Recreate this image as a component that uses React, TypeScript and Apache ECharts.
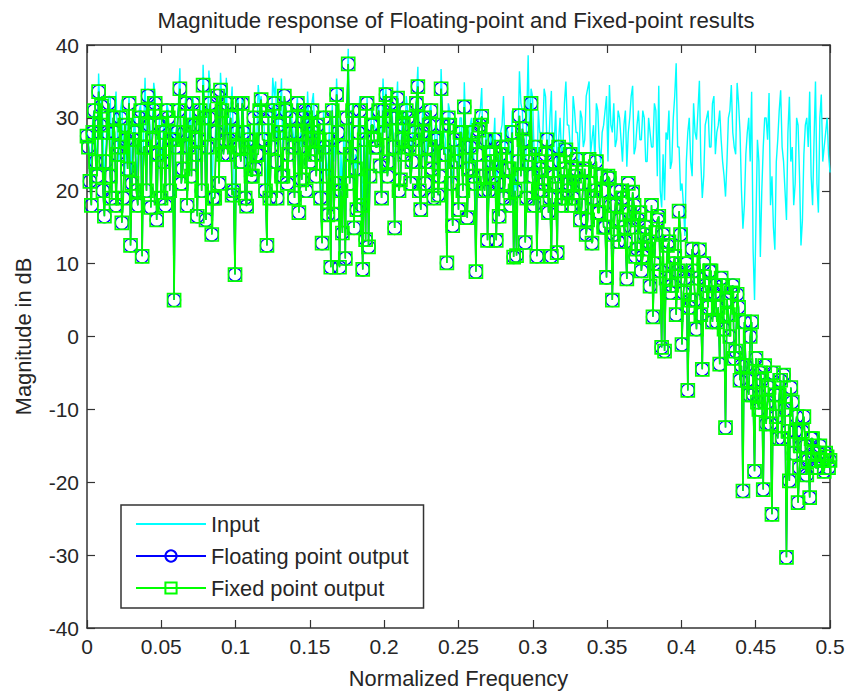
import React, { useEffect, useRef } from "react";
import * as echarts from "echarts";

const titleText = "Magnitude response of Floating-point and Fixed-point results";
const xName = "Normalized Frequency";
const yName = "Magnitude in dB";
const binsPerUnit = 1024;

const inputEvenBinsDb = [
  28,23,30,26,36.1,33,20,30,32.9,27,
  33.6,24,32.5,22,29,18,28,22,31,19,
  35.5,29,22,34.8,20,30,26,21,31,28,
  10,29,36.8,25,33,28,24,30,22,32,
  37.3,22,36.5,18,26,33,36.2,27,35.5,29,
  34.3,14,33,26,29,22,28,25,27,34.5,
  33,29,19,24,35.5,35,30,35.4,31,25,
  31,28,30,22,26,32,33.6,27,33.4,25,
  29,18,28,22,15,24,35.4,16,20,18,
  39.5,28,20,23,33,15,19,18,31,29,
  28,26,35.4,34,27,32,21,35,25,31,
  33,28,27,30,37,23,32,27,31,26,
  29,24,36.7,28,16,31,21,27,23,30,
  34.9,22,29,26,15,30,34.1,24,19,28,
  26,19,23,29,26,28,24,18,20,36.4,
  31,20,38.6,34,26,21,28,27,32.9,25,
  33.7,27,22,30,26,35,29,24,31,28,
  31,26,33,35,27,24,31,23.8,29,33,
  34.5,28,26,31,27,29,23.3,30,34.4,26,
  31,27,30,24,28,26,31,34.4,17.7,18.7,
  27,23,30,37.5,26,21,13.8,28,24,32,
  27,35.1,19,29,31,26,33,28,31,24,
  19.2,30,34.5,26,34.8,28,14.8,25,30,33.6,
  5,27,10.9,26,30,33.4,22,11.9,27,33.8,
  24,16,32.9,26,21,29,12.5,25,30,33.6,
  18,35,17,33.2,26,30,22.5,
];

const inputOddBinsDb = [
  27,25,31,24,30,29,26,33,25,30,
  27,31,25,29,33,26,30,24,32,28,
  26,31,29,33,27,24,30,32,25,29,
  28,32,26,30,24,31,33,27,29,25,
  31,28,33,26,30,24,32,29,27,31,
  25,30,28,33,26,29,24,31,27,32,
  29,25,31,28,33,26,30,24,32,27,
  30,26,33,28,31,25,29,32,27,30,
  26,31,24,29,32,27,30,25,28,31,
  27,32,25,30,26,29,33,24,31,28,
  32,26,30,24,33,28,31,25,29,27,
  31,24,29,33,26,30,23,28,32,25,
  29,24,31,27,32,23,29,26,30,22,
  28,25,30,23,27,31,24,29,22,26,
  30,24,28,33,29,26,31,22,27,32,
  25,30,27,33,24,31,28,34,26,30,
  23,31,27,25,32,29,26,33,28,24,
  30,27,34,25,29,32,26,28,31,24,
  29,32,27,30,24,31,28,33,25,29,
  27,31,24,30,26,32,22,20,25,28,
  31,24,33,26,20,18,24,30,22,28,
  31,24,22,30,26,32,25,29,27,22,
  24,31,28,25,32,20,18,28,24,12,
  16,24,20,30,27,18,15,24,31,26,
  20,28,24,18,30,22,16,29,26,22,
  27,21,30,24,28,25,
];

const outputEvenBinsDb = [
  27.5,21.3,28,24,33.6,31.6,16.5,28,22,30,
  18,26,15.6,29,23,12.5,27,20,30,11,
  26,33,17.7,31,16,29,24,18,30,27,
  5,28,34,23,32,26,22,29,16.5,31,
  34.5,16,30,14,19,33,33.8,25,32,27,
  19.4,8.5,32,24,28,17.9,26,22,23,25,
  32.5,27,12.5,19,31,24,29,22,33,21,
  30,26,28,17,21.5,31,29,24,28,22,
  27,12.8,26,16.7,9.5,16.8,33.2,9.5,14.2,10.7,
  37.4,25,14.9,17.4,31,9.2,13.3,12.3,29,27,
  26,23.4,31,33.2,24,30,14.9,32.7,21.5,29,
  31,26,24,28,34.3,17.4,30,24,29,23,
  27,19.4,34,25,10.1,29,15.2,24,17.4,28,
  31.5,16.3,26,22,8.9,28.3,30.2,20,13.2,25,
  22,13.2,16.5,26,21,23,18,10.9,11.1,30.3,
  28.5,12.9,24,32,18,11,23,20,25,17,
  11,22,11.5,24,19,25.6,21,18,22,24.3,
  16,21,14,24.3,12.8,20,17,22,15,8.1,
  21.7,5,18,13,20,15,7.9,17,19.8,11,
  16,9,14,12,6.9,2.7,14.3,16.5,-1.5,-2,
  12.5,6,10,3,17.2,-1.1,8,-7.4,5,9,
  1,11.9,-4.5,7,4,9,6,2,-3.8,7,
  -12.5,3,6,-3,5.8,-6,-21.2,-4,-8,2,
  -18.5,-9,-5,-21,-12,-7,-24.4,-8,-14,-6,
  -5.3,-30.3,-19.8,-9,-13,-22.8,-15,-11,-19,-22.1,
  -14,-18,-16,-17,-18.5,-16.5,-17,
];

const outputOddBinsDb = [
  26,18,31,22,29,20,24,32,19,28,
  25,30,19,27,32,21,28,18,31,26,
  20,29,27,32,25,19,28,31,20,27,
  26,31,21,28,18,29,32,25,27,20,
  30,26,32,19,28,21,31,27,25,30,
  20,28,26,32,19,27,22,30,25,31,
  27,20,30,26,32,19,28,22,31,25,
  28,19,32,26,30,20,27,31,25,29,
  19,30,22,27,31,21,28,20,26,30,
  21,31,23,28,18,27,32,22,29,26,
  31,19,28,22,32,26,30,20,27,25,
  30,21,27,32,20,28,21,26,31,19,
  27,22,29,25,30,21,27,24,28,20,
  26,23,28,21,25,29,22,27,20,24,
  27,21,25,19,26,23,28,20,24,22,
  27,19,25,22,26,20,24,21,27,19,
  24,21,26,18,23,20,25,19,23,21,
  18,23,16,21,19,24,17,20,15,22,
  18,14,20,16,19,13,21,15,18,12,
  17,11,15,13,18,10,16,9,14,8,
  13,7,11,9,14,6,10,4,12,5,
  8,3,10,6,9,2,7,4,8,1,
  5,0,7,-2,4,-4,2,-6,0,-8,
  -3,-10,-6,-4,-9,-12,-5,-11,-8,-14,
  -10,-13,-7,-16,-11,-18,-13,-15,-17,-14,
  -16,-18,-15,-17,-16,-18,
];

const merged = (even: number[], odd: number[]) =>
  even.flatMap((d, i) =>
    i < odd.length
      ? [[(2 * i) / binsPerUnit, d], [(2 * i + 1) / binsPerUnit, odd[i]]]
      : [[(2 * i) / binsPerUnit, d]]
  );

const font = "Liberation Sans";
const ink = "#262626";

export default function App() {
  const ref = useRef<HTMLDivElement>(null);
  useEffect(() => {
    const chart = echarts.init(ref.current!, null, { renderer: "svg" });
    const axisCommon = {
      axisLine: { onZero: false, lineStyle: { color: "#333", width: 1.5 } },
      axisTick: { inside: true, length: 8, lineStyle: { color: "#333", width: 1.2 } },
      splitLine: { show: false },
    };
    chart.setOption({
      animation: false,
      backgroundColor: "#fff",
      title: {
        text: titleText, left: 451, top: 4, textAlign: "center",
        textStyle: { fontFamily: font, fontWeight: "normal", fontSize: 22.2, color: ink },
      },
      grid: { left: 87, right: 19, top: 45, bottom: 63 },
      xAxis: [
        { type: "value", min: 0, max: 0.5, interval: 0.05, position: "bottom", ...axisCommon,
          name: xName, nameLocation: "middle", nameGap: 39,
          nameTextStyle: { fontFamily: font, fontSize: 21.8, color: ink },
          axisLabel: { fontFamily: font, fontSize: 21, color: ink, margin: 8 } },
        { type: "value", min: 0, max: 0.5, interval: 0.05, position: "top", ...axisCommon, axisLabel: { show: false } },
      ],
      yAxis: [
        { type: "value", min: -40, max: 40, interval: 10, position: "left", ...axisCommon,
          name: yName, nameLocation: "middle", nameGap: 53,
          nameTextStyle: { fontFamily: font, fontSize: 21.8, color: ink },
          axisLabel: { fontFamily: font, fontSize: 21, color: ink, margin: 8 } },
        { type: "value", min: -40, max: 40, interval: 10, position: "right", ...axisCommon, axisLabel: { show: false } },
      ],
      legend: {
        orient: "vertical", left: 121, top: 505, padding: [8, 15, 9, 14],
        backgroundColor: "#fff", borderColor: "#333", borderWidth: 1.5, borderRadius: 0,
        itemWidth: 70, itemHeight: 14, itemGap: 10, symbolSize: 14,
        textStyle: { fontFamily: font, fontSize: 21.8, color: ink },
        data: [
          { name: "Input", itemStyle: { color: "transparent", borderColor: "transparent" } },
          "Floating point output",
          "Fixed point output",
        ],
      },
      series: [
        { name: "Input", type: "line", z: 2, data: merged(inputEvenBinsDb, inputOddBinsDb), symbol: "none",
          clip: false, lineStyle: { color: "#00ffff", width: 1.4 }, itemStyle: { color: "#00ffff" } },
        { name: "Floating point output", type: "line", z: 3, data: merged(outputEvenBinsDb, outputOddBinsDb), symbol: "circle", symbolSize: 13,
          showAllSymbol: true, clip: false, lineStyle: { color: "#0000ff", width: 1.4 },
          itemStyle: { color: "transparent", borderColor: "#0000ff", borderWidth: 1.3 } },
        { name: "Fixed point output", type: "line", z: 4, data: merged(outputEvenBinsDb, outputOddBinsDb), symbol: "rect", symbolSize: 13,
          showAllSymbol: true, clip: false, lineStyle: { color: "#00ff00", width: 1.6 },
          itemStyle: { color: "transparent", borderColor: "#00ff00", borderWidth: 1.7 } },
      ],
    });
    return () => chart.dispose();
  }, []);
  return <div ref={ref} style={{ position: "fixed", left: 0, top: 0, width: 849, height: 694 }} />;
}
